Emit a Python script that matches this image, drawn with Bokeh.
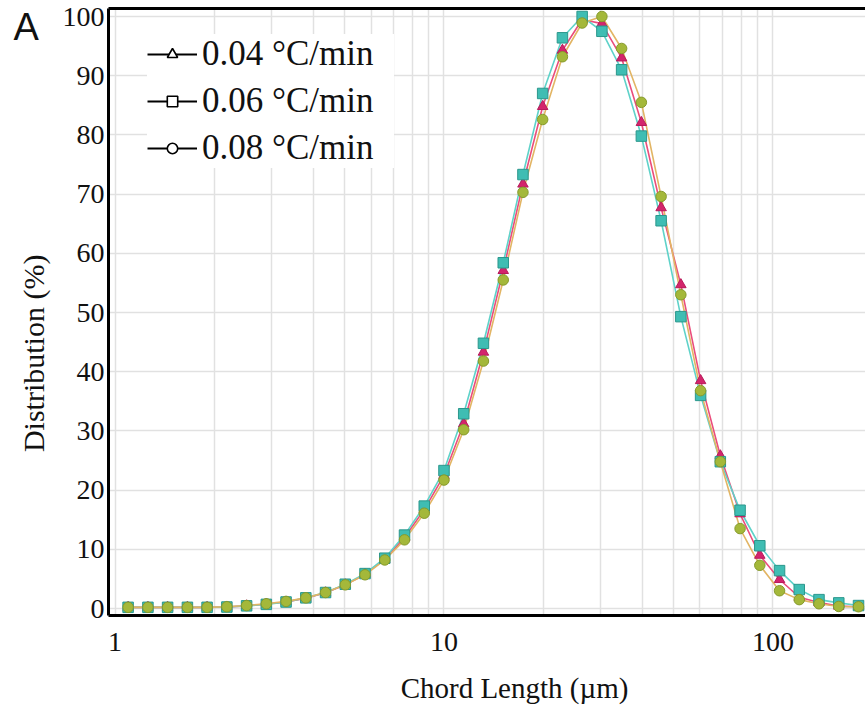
from bokeh.plotting import figure
from bokeh.models import (FixedTicker, LogAxis, Label, Legend, LegendItem,
                          Range1d, PrintfTickFormatter)
from bokeh.embed import file_html
from bokeh.resources import INLINE

# Chord length bin centres (µm)
chord_length = [1.096, 1.259, 1.445, 1.660, 1.905, 2.188, 2.512, 2.884, 3.311, 3.802,
                4.365, 5.012, 5.754, 6.607, 7.586, 8.710, 10.00, 11.48, 13.18, 15.14,
                17.38, 19.95, 22.91, 26.30, 30.20, 34.67, 39.81, 45.71, 52.48, 60.26,
                69.18, 79.43, 91.20, 104.7, 120.2, 138.0, 158.5, 182.0]

# Normalised chord length distribution (%) per cooling rate
dist_004 = [0.2, 0.2, 0.2, 0.2, 0.2, 0.25, 0.45, 0.75, 1.1, 1.75,
            2.65, 4.0, 5.8, 8.3, 12.0, 16.7, 22.5, 31.2, 43.3, 57.1,
            71.7, 84.8, 94.3, 99.5, 98.8, 93.0, 82.1, 67.7, 54.7, 38.5,
            25.8, 16.0, 9.0, 4.9, 1.9, 1.0, 0.4, 0.3]
dist_006 = [0.2, 0.2, 0.2, 0.2, 0.2, 0.25, 0.45, 0.7, 1.1, 1.8,
            2.7, 4.1, 5.9, 8.5, 12.4, 17.3, 23.3, 32.9, 44.8, 58.4,
            73.3, 87.0, 96.4, 100.0, 97.5, 91.0, 79.8, 65.5, 49.3, 36.0,
            24.8, 16.6, 10.6, 6.4, 3.2, 1.5, 0.95, 0.5]
dist_008 = [0.2, 0.2, 0.2, 0.2, 0.2, 0.3, 0.5, 0.8, 1.2, 1.8,
            2.7, 4.0, 5.7, 8.2, 11.6, 16.1, 21.7, 30.2, 41.8, 55.5,
            70.3, 82.6, 93.2, 98.9, 100.0, 94.6, 85.5, 69.6, 53.0, 36.8,
            24.8, 13.5, 7.3, 3.0, 1.5, 0.8, 0.35, 0.3]

series_labels = ["0.04 °C/min", "0.06 °C/min", "0.08 °C/min"]

x_ticks = [1, 10, 100]
x_tick_labels = ["1", "10", "100"]
x_minor_ticks = [2, 3, 4, 5, 6, 7, 8, 9, 20, 30, 40, 50, 60, 70, 80, 90, 200]
y_ticks = [0, 10, 20, 30, 40, 50, 60, 70, 80, 90, 100]

SERIF = "Liberation Serif"
INK = "#111111"
GRID = "#e1e1e1"
NAN = float("nan")

p = figure(width=865, height=705, x_axis_type="log",
           x_range=Range1d(0.9555, 191.1), y_range=Range1d(-1.18, 101.35),
           output_backend="svg", toolbar_location=None,
           min_border_left=108, min_border_right=0,
           min_border_top=8, min_border_bottom=90)
p.outline_line_color = None
p.background_fill_color = "white"
p.border_fill_color = "white"

xt = FixedTicker(ticks=x_ticks, minor_ticks=x_minor_ticks)
yt = FixedTicker(ticks=y_ticks)

for ax in (p.xaxis[0], p.yaxis[0]):
    ax.axis_line_color = "black"
    ax.axis_line_width = 3
    ax.major_tick_out = 0
    ax.major_tick_in = 0
    ax.minor_tick_out = 0
    ax.minor_tick_in = 0
    ax.major_label_text_font = SERIF
    ax.major_label_text_color = INK

p.xaxis[0].ticker = xt
p.xaxis[0].formatter = PrintfTickFormatter(format="%d")
p.xaxis[0].major_label_overrides = dict(zip(x_ticks, x_tick_labels))
p.xaxis[0].major_label_text_font_size = "28px"
p.xaxis[0].major_label_standoff = 17

p.yaxis[0].ticker = yt
p.yaxis[0].major_label_text_font_size = "28px"
p.yaxis[0].major_label_standoff = 4

# plain top border line
top = LogAxis(ticker=FixedTicker(ticks=[]), axis_line_width=3, axis_line_color="black",
              major_tick_out=0, minor_tick_out=0, major_tick_in=0, minor_tick_in=0,
              major_label_standoff=0, major_label_text_font_size="0px")
p.add_layout(top, "above")

p.xgrid.ticker = xt
p.xgrid.grid_line_color = GRID
p.xgrid.grid_line_width = 1.5
p.xgrid.minor_grid_line_color = GRID
p.xgrid.minor_grid_line_width = 1.5
p.ygrid.ticker = yt
p.ygrid.grid_line_color = GRID
p.ygrid.grid_line_width = 1.5

styles = [
    # (data, marker, fill, edge, line colour, size)
    (dist_004, "triangle", "#d3256c", "#b81a5a", "#ea4d7c", 10.5),
    (dist_006, "square", "#3fbdb3", "#2b978c", "#5fd2c9", 10.5),
    (dist_008, "circle", "#a4b83a", "#869a2c", "#e2b564", 10.5),
]

for data, marker, fill, edge, lc, size in styles:
    p.line(chord_length, data, line_color=lc, line_width=1.6)

for data, marker, fill, edge, lc, size in styles:
    p.scatter(chord_length, data, marker=marker, size=size,
              fill_color=fill, line_color=edge, line_width=1)

# legend entries: black line with hollow marker
items = []
for label, (data, marker, *_rest) in zip(series_labels, styles):
    lr = p.line(x=[NAN], y=[NAN], line_color="black", line_width=2.2)
    mr = p.scatter(x=[NAN], y=[NAN], marker=marker, size=10, fill_color="white",
                   line_color="black", line_width=1.6)
    items.append(LegendItem(label=label, renderers=[lr, mr]))

legend = Legend(items=items, location=(39, 447), orientation="vertical",
                background_fill_color="white", background_fill_alpha=1.0,
                border_line_color=None, label_text_font=SERIF,
                label_text_font_size="35px", label_text_color=INK,
                glyph_width=50, glyph_height=26, label_height=40, label_width=192,
                spacing=7, padding=14, label_standoff=5, margin=0)
p.add_layout(legend)

# axis titles and panel letter, kept in the side panels so they are not clipped
p.add_layout(Label(x=16.38, y=-13.5, text="Chord Length (µm)", text_font=SERIF,
                   text_font_size="29px", text_align="center",
                   text_baseline="middle", text_color=INK), "below")
p.add_layout(Label(x=0.5651, y=43.1, text="Distribution (%)", text_font=SERIF,
                   text_font_size="30px", text_align="center", angle=1.5708,
                   text_baseline="middle", text_color=INK), "left")
p.add_layout(Label(x=0.4913, y=98.2, text="A", text_font="Liberation Sans",
                   text_font_size="38px", text_align="left",
                   text_baseline="middle", text_color=INK), "left")

open("out.html", "w").write(file_html(p, INLINE))
